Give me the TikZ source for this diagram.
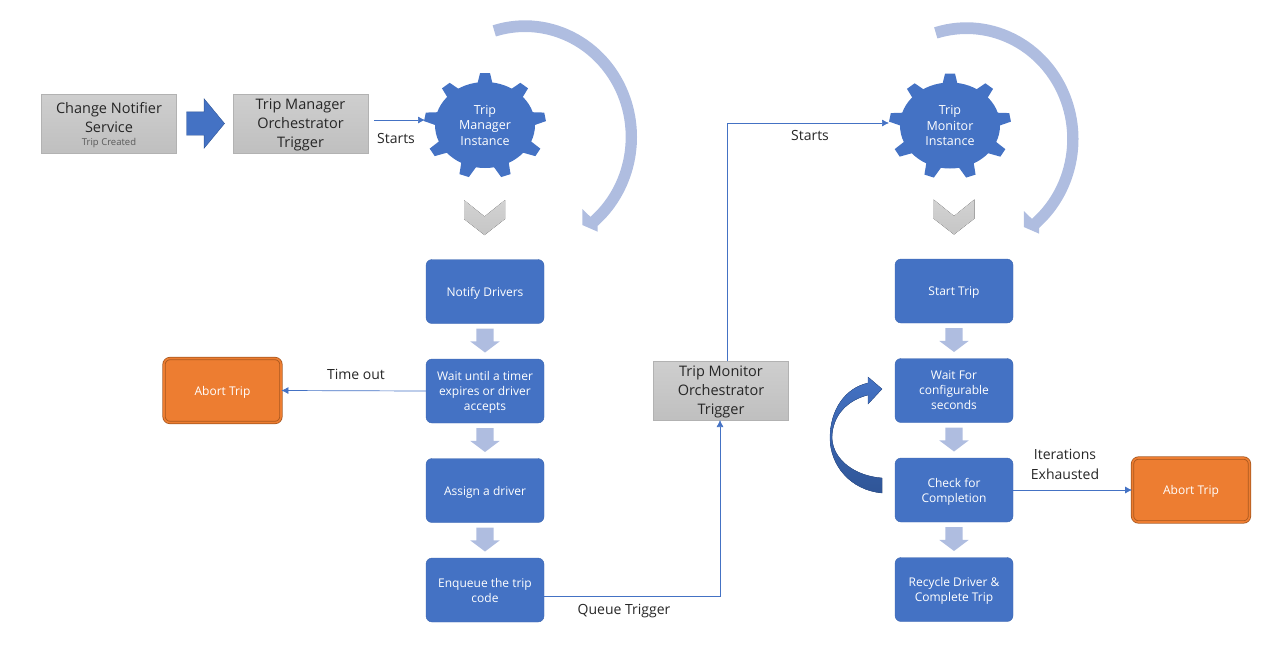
\documentclass[tikz,border=0pt]{standalone}
\usepackage{fontspec}
\setmainfont{Open Sans}
\usetikzlibrary{arrows.meta,positioning,shapes.geometric,shapes.arrows}
\definecolor{flowblue}{HTML}{4472C4}
\definecolor{darkblue}{HTML}{2F5597}
\definecolor{paleblue}{HTML}{AFBDE0}
\definecolor{abortorange}{HTML}{ED7D31}
\definecolor{abortedge}{HTML}{A9581F}
\definecolor{labeltext}{HTML}{262626}

\begin{document}
\begin{tikzpicture}[x=1pt,y=-1pt,>=Latex]
  \tikzstyle{flowbox}=[draw=flowblue!90!black,fill=flowblue,rounded corners=6pt,minimum width=118pt,minimum height=64pt,align=center,text=white,inner sep=0pt,outer sep=0pt,text depth=0pt,font=\fontsize{12}{15}\selectfont]
  \tikzstyle{graybox}=[draw=gray!60,top color=gray!38,bottom color=gray!50,minimum width=135pt,minimum height=59pt,align=center,text=labeltext,inner sep=0pt,outer sep=0pt,text depth=0pt,font=\fontsize{14.5}{19}\selectfont]
  \tikzstyle{abortbox}=[draw=abortedge,double=abortorange,double distance=1.6pt,line width=.8pt,fill=abortorange,rounded corners=6pt,minimum width=117pt,minimum height=64pt,text=white,inner sep=0pt,text depth=0pt,font=\fontsize{12}{15}\selectfont]
  \tikzstyle{gearbody}=[ellipse,fill=flowblue,minimum width=100pt,minimum height=86pt,align=center,text=white,inner sep=0pt,outer sep=0pt,font=\fontsize{12.5}{15.5}\selectfont]
  \tikzstyle{downarrow}=[single arrow,shape border rotate=270,fill=paleblue,minimum height=24pt,minimum width=29pt,single arrow head extend=6pt,single arrow head indent=0pt,single arrow tip angle=106,inner xsep=8.5pt,inner ysep=0pt,outer sep=0pt]
  \tikzstyle{link}=[draw=flowblue,line width=.7pt,-{Latex[length=7pt,width=7pt]}]
  \tikzstyle{linklabel}=[text=labeltext,align=center,inner sep=0pt,font=\fontsize{14}{20}\selectfont]
  \tikzset{
    gearteeth/.pic={
      \begin{scope}[yscale=.865]
        \foreach \toothangle in {90,50,10,-30,-70,-110,-150,170,130}
          \fill[flowblue,rotate=\toothangle] (47,-8) -- (61,-5) -- (61,5) -- (47,8) -- cycle;
      \end{scope}
    },
    chevronmark/.pic={
      \fill[top color=gray!35,bottom color=gray!45] (-20.5,-17.5) -- (0,-1) -- (20.5,-17.5) -- (20.5,1.5) -- (0,17.5) -- (-20.5,1.5) -- cycle;
    },
    loopsweep/.pic={
      \fill[paleblue] (-106.8:112 and 116.7) arc[start angle=-106.8,end angle=49.5,x radius=112,y radius=116.7] -- (72.7,94.7) -- (57.3,88) -- (57.3,72) -- (49.5:100.7 and 105) arc[start angle=49.5,end angle=-106.8,x radius=100.7,y radius=105] -- cycle;
    }
  }
  \useasboundingbox (0,0) rectangle (1263,649);

  \node[graybox] (notifier) at (109,123.5) {Change Notifier\\Service\\[-6pt]{\fontsize{9.5}{10}\selectfont\color{gray!70!black}Trip Created}};
  \node[single arrow,draw=darkblue,fill=flowblue,minimum height=38pt,minimum width=49pt,single arrow head extend=13pt,single arrow head indent=0pt,single arrow tip angle=101,inner xsep=0pt,inner ysep=11.5pt,outer sep=0pt,right=10pt of notifier] (notifyarrow) {};
  \node[graybox,right=56.5pt of notifier] (mgrtrigger) {Trip Manager\\Orchestrator\\Trigger};
  \pic at (485,126) {gearteeth};
  \node[gearbody] (mgrgear) at (485,125) {Trip\\Manager\\Instance};
  \pic at (484.5,217.5) {chevronmark};
  \pic at (525,137) {loopsweep};
  \node[linklabel] (mgrstarts) at (396,138) {Starts};

  \node[flowbox] (notify) at (485,291.5) {Notify Drivers};
  \node[flowbox,below=35.5pt of notify] (waittimer) {Wait until a timer\\expires or driver\\accepts};
  \node[flowbox,below=35.5pt of waittimer] (assign) {Assign a driver};
  \node[flowbox,below=35.5pt of assign] (enqueue) {Enqueue the trip\\code};
  \foreach \boxname in {notify,waittimer,assign}
    \node[downarrow,below=5pt of \boxname] (\boxname arrow) {};
  \node[abortbox] (abortleft) at (222.5,390.5) {Abort Trip};
  \node[linklabel] (timeout) at (356,374) {Time out};

  \node[graybox] (montrigger) at (721,390.5) {Trip Monitor\\Orchestrator\\Trigger};
  \node[linklabel] (queuelabel) at (624,611) {Queue Trigger};
  \node[linklabel] (monstarts) at (810,135) {Starts};

  \pic at (950,126.5) {gearteeth};
  \node[gearbody] (mongear) at (950,125.5) {Trip\\Monitor\\Instance};
  \pic at (954,217) {chevronmark};
  \pic at (966.5,139) {loopsweep};

  \node[flowbox] (starttrip) at (954,291) {Start Trip};
  \node[flowbox,below=35.5pt of starttrip] (waitfor) {Wait For\\configurable\\seconds};
  \node[flowbox,below=35.5pt of waitfor] (check) {Check for\\Completion};
  \node[flowbox,below=35.5pt of check] (recycle) {Recycle Driver \&\\Complete Trip};
  \foreach \boxname in {starttrip,waitfor,check}
    \node[downarrow,below=5pt of \boxname] (\boxname arrow) {};
  \node[abortbox] (abortright) at (1191,490) {Abort Trip};
  \node[linklabel] (exhausted) at (1065,464) {Iterations\\Exhausted};

  \draw[link] ([xshift=6pt,yshift=3.5pt]mgrtrigger.east) -- ([xshift=-10pt,yshift=5pt]mgrgear.west);
  \draw[link] (waittimer.west) -- (abortleft.east);
  \draw[link] (check.east) -- (abortright.west);
  \draw[link] ([yshift=-6pt]enqueue.east) -| ([xshift=-1pt]montrigger.south);
  \draw[link] ([xshift=6pt]montrigger.north) |- ([xshift=-11pt,yshift=2.5pt]mongear.west);
  \fill[top color=flowblue,bottom color=darkblue,draw=darkblue,line width=.3pt] (882,493) .. controls (850,490) and (830,465) .. (830,438) .. controls (830,410) and (845,388) .. (868,383) -- (868,377) -- (882,389) -- (868,404) -- (868,395) .. controls (848,400) and (832,415) .. (832,438) .. controls (833,460) and (855,476) .. (882,478) -- cycle;
\end{tikzpicture}
\end{document}
